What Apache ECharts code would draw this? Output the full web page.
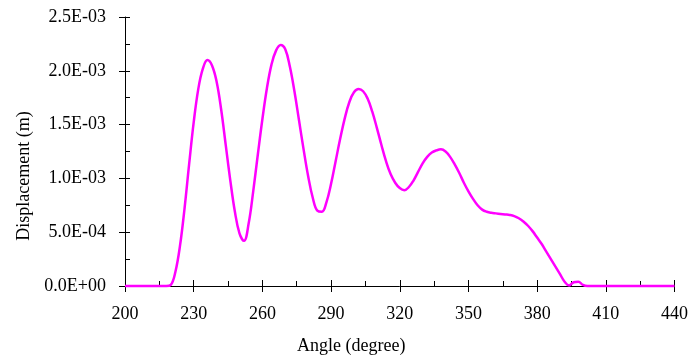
<!DOCTYPE html>
<html>
<head>
<meta charset="utf-8">
<script src="https://cdn.jsdelivr.net/npm/echarts@6/dist/echarts.min.js"></script>
<style>
html,body{margin:0;padding:0;background:#fff;}
#c{width:691px;height:356px;}
</style>
</head>
<body>
<div id="c"></div>
<script>
// Angle (degree)
var angles = [200, 210, 218, 220, 222, 224, 226, 228, 230, 232, 234, 236, 238, 240, 242, 244, 246, 248, 250, 252, 254, 256, 258, 260, 262, 264, 266, 268, 270, 272, 274, 276, 278, 280, 282, 284, 286, 288, 290, 292, 294, 296, 298, 300, 302, 304, 306, 308, 310, 312, 314, 316, 318, 320, 322, 324, 326, 328, 330, 332, 334, 336, 338, 340, 342, 344, 346, 348, 350, 352, 354, 356, 358, 360, 362, 364, 366, 368, 370, 372, 374, 376, 378, 380, 382, 384, 386, 388, 390, 392, 394, 396, 398, 400, 402, 410, 420, 430, 440];
// Displacement (m)
var displacement = [0, 0, 0, 0.00001, 0.00013, 0.00037, 0.00072, 0.00113, 0.00152, 0.00183, 0.00202, 0.00210, 0.00205, 0.00190, 0.00164, 0.00131, 0.00098, 0.00069, 0.00049, 0.00042, 0.00058, 0.00088, 0.00122, 0.00155, 0.00184, 0.00206, 0.00219, 0.00224, 0.00220, 0.00204, 0.00181, 0.00154, 0.00127, 0.00102, 0.00082, 0.00070, 0.00069, 0.00078, 0.00095, 0.00116, 0.00137, 0.00156, 0.00171, 0.00180, 0.00183, 0.00181, 0.00174, 0.00162, 0.00147, 0.00131, 0.00116, 0.00104, 0.00096, 0.00091, 0.00089, 0.00092, 0.00098, 0.00106, 0.00114, 0.00120, 0.00124, 0.00126, 0.00127, 0.00125, 0.00120, 0.00113, 0.00105, 0.00096, 0.00088, 0.00081, 0.00075, 0.00071, 0.00069, 0.00068, 0.000675, 0.00067, 0.000665, 0.00066, 0.00065, 0.00063, 0.00060, 0.00056, 0.00051, 0.00045, 0.00039, 0.00032, 0.00025, 0.00018, 0.00011, 0.00004, 0.000005, 0.000035, 0.00004, 0.00001, 0, 0, 0, 0, 0];
// Tick labels
var xTickLabels = ['200', '230', '260', '290', '320', '350', '380', '410', '440'];
var yTickLabels = ['0.0E+00', '5.0E-04', '1.0E-03', '1.5E-03', '2.0E-03', '2.5E-03'];

var xMin = 200, xMax = 440, xStep = 30;
var yMin = 0, yMax = 0.0025, yStep = 0.0005;

var pts = angles.map(function (a, i) { return [a, displacement[i]]; });

var font = '"Liberation Serif", "Times New Roman", serif';
var chart = echarts.init(document.getElementById('c'), null, { renderer: 'canvas' });
var lineStyle = { color: '#000', width: 1 };
chart.setOption({
  animation: false,
  backgroundColor: '#fff',
  grid: { left: 125, right: 13, top: 17, bottom: 70 },
  xAxis: [{
    type: 'value', min: xMin, max: xMax, interval: xStep, position: 'bottom',
    axisLine: { show: true, lineStyle: lineStyle },
    axisTick: { show: true, inside: false, length: 6, lineStyle: lineStyle },
    minorTick: { show: false },
    splitLine: { show: false },
    axisLabel: {
      margin: 19, color: '#000', fontFamily: font, fontSize: 18,
      formatter: function (v) { return xTickLabels[Math.round((v - xMin) / xStep)]; }
    }
  }, {
    type: 'value', min: xMin, max: xMax, interval: xStep, position: 'bottom',
    axisLine: { show: false },
    axisTick: { show: true, inside: true, length: 6, lineStyle: lineStyle },
    minorTick: { show: true, splitNumber: 2, length: 5, lineStyle: lineStyle },
    splitLine: { show: false },
    axisLabel: { show: false }
  }],
  yAxis: [{
    type: 'value', min: yMin, max: yMax, interval: yStep,
    axisLine: { show: true, lineStyle: lineStyle },
    axisTick: { show: true, inside: false, length: 6, lineStyle: lineStyle },
    minorTick: { show: false },
    splitLine: { show: false },
    axisLabel: {
      margin: 19, color: '#000', fontFamily: font, fontSize: 18,
      formatter: function (v) { return yTickLabels[Math.round((v - yMin) / yStep)]; }
    }
  }, {
    type: 'value', min: yMin, max: yMax, interval: yStep, position: 'left',
    axisLine: { show: false },
    axisTick: { show: true, inside: true, length: 5, lineStyle: lineStyle },
    minorTick: { show: true, splitNumber: 2, length: 5, lineStyle: lineStyle },
    splitLine: { show: false },
    axisLabel: { show: false }
  }],
  graphic: [{
    type: 'text', left: 297, top: 337,
    style: { text: 'Angle (degree)', fill: '#000', font: '18px ' + font }
  }, {
    type: 'text', x: 24, y: 176, rotation: Math.PI / 2,
    style: { text: 'Displacement (m)', fill: '#000', font: '18px ' + font, align: 'center', verticalAlign: 'middle' }
  }],
  series: [{
    type: 'line', xAxisIndex: 0, yAxisIndex: 0,
    data: pts, showSymbol: false, smooth: 0.4,
    lineStyle: { color: '#ff00ff', width: 2.5 },
    clip: false
  }]
});
</script>
</body>
</html>
